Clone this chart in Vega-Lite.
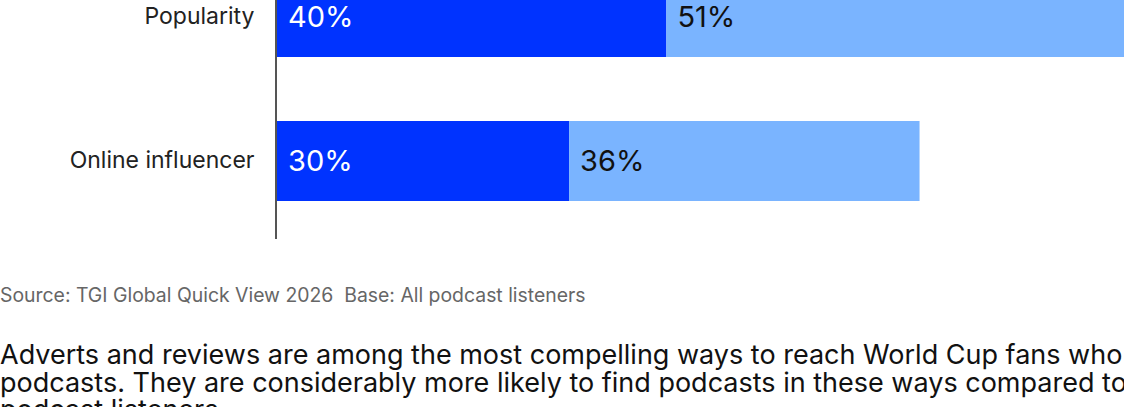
{
  "$schema": "https://vega.github.io/schema/vega-lite/v6.json",
  "width": 847,
  "height": 239,
  "autosize": {"type": "none"},
  "padding": {"left": 277, "top": 0, "right": 0, "bottom": 168},
  "background": "white",
  "config": {"font": "Inter", "view": {"stroke": null}},
  "data": {"values": [
    {"category": "Popularity", "series": "All podcast listeners", "order": 1, "value": 0.40},
    {"category": "Popularity", "series": "World Cup fans", "order": 2, "value": 0.51},
    {"category": "Online influencer", "series": "All podcast listeners", "order": 1, "value": 0.30},
    {"category": "Online influencer", "series": "World Cup fans", "order": 2, "value": 0.36}
  ]},
  "transform": [
    {"stack": "value", "groupby": ["category"], "sort": [{"field": "order"}], "as": ["v0", "v1"]}
  ],
  "title": {
    "text": "Source: TGI Global Quick View 2026\u00a0 Base: All podcast listeners",
    "subtitle": [
      "Adverts and reviews are among the most compelling ways to reach World Cup fans who",
      "podcasts. They are considerably more likely to find podcasts in these ways compared to",
      "podcast listeners."
    ],
    "orient": "bottom",
    "anchor": "start",
    "frame": "group",
    "dx": -277,
    "offset": 47,
    "font": "Inter",
    "fontSize": 19.4,
    "fontWeight": "normal",
    "color": "#666666",
    "subtitleFont": "Inter",
    "subtitleFontSize": 27,
    "subtitleColor": "#111111",
    "subtitleLineHeight": 27.5,
    "subtitlePadding": 37
  },
  "layer": [
    {
      "mark": {"type": "bar", "clip": true},
      "encoding": {
        "y": {
          "field": "category",
          "type": "nominal",
          "sort": ["Popularity", "Online influencer"],
          "scale": {"range": [-23, 201], "paddingInner": 0.4444, "paddingOuter": 0},
          "axis": {
            "title": null,
            "domain": false,
            "ticks": false,
            "labelPadding": 23,
            "labelFontSize": 23,
            "labelColor": "#222222",
            "labelFont": "Inter",
            "labelLimit": 300
          }
        },
        "x": {"field": "v0", "type": "quantitative", "scale": {"domain": [0, 0.87], "nice": false}, "axis": null},
        "x2": {"field": "v1"},
        "color": {
          "field": "series",
          "type": "nominal",
          "scale": {"domain": ["All podcast listeners", "World Cup fans"], "range": ["#0033ff", "#7ab4ff"]},
          "legend": null
        }
      }
    },
    {
      "mark": {"type": "text", "align": "left", "baseline": "middle", "dx": 11, "dy": 1, "fontSize": 29, "font": "Inter", "clip": true},
      "encoding": {
        "y": {"field": "category", "type": "nominal", "sort": ["Popularity", "Online influencer"]},
        "x": {"field": "v0", "type": "quantitative"},
        "text": {"field": "value", "type": "quantitative", "format": ".0%"},
        "color": {"condition": {"test": "datum.order === 1", "value": "white"}, "value": "#111111"}
      }
    },
    {
      "mark": {"type": "rule", "stroke": "#555555", "strokeWidth": 2, "xOffset": -1},
      "encoding": {"x": {"datum": 0}}
    }
  ]
}
